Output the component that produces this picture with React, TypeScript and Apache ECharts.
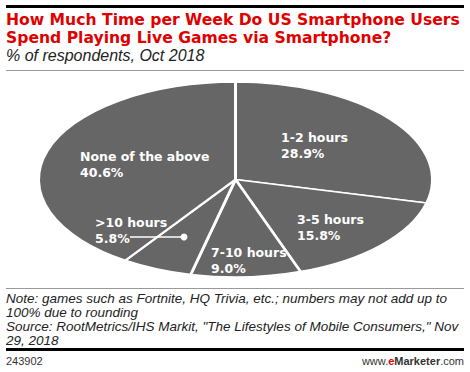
import React, { useEffect, useRef } from "react";
import * as echarts from "echarts";

const categories = ["1-2 hours", "3-5 hours", "7-10 hours", ">10 hours", "None of the above"];
const values = [28.9, 15.8, 9.0, 5.8, 40.6];

const titleLines = [
  "How Much Time per Week Do US Smartphone Users",
  "Spend Playing Live Games via Smartphone?",
];
const subtitle = "% of respondents, Oct 2018";
const noteLines = [
  "Note: games such as Fortnite, HQ Trivia, etc.; numbers may not add up to",
  "100% due to rounding",
  'Source: RootMetrics/IHS Markit, "The Lifestyles of Mobile Consumers," Nov',
  "29, 2018",
];
const chartId = "243902";

// layout (not data)
const CX = 235.5;
const CY = 179.5;
const RX = 197;
const RY = 97.5;
const labelPos: Record<string, [number, number]> = {
  "1-2 hours": [281, 129.5],
  "3-5 hours": [297, 211],
  "7-10 hours": [211, 244],
  ">10 hours": [95, 214],
  "None of the above": [80, 148],
};
const FONT = "'Liberation Sans', Arial, sans-serif";
const LFONT = "'DejaVu Sans', sans-serif";

export default function App() {
  const ref = useRef<HTMLDivElement>(null);
  useEffect(() => {
    document.body.style.margin = "0";
    const chart = echarts.init(ref.current!, null, { renderer: "svg" });
    const total = values.reduce((a, b) => a + b, 0);
    const cum: number[] = [];
    let acc = 0;
    values.forEach((v) => {
      cum.push(acc);
      acc += v;
    });

    const option: any = {
      animation: false,
      backgroundColor: "#fff",
      series: [
        {
          type: "custom",
          coordinateSystem: "none",
          data: values.map((v, i) => ({ name: categories[i], value: v })),
          renderItem: (params: any, api: any) => {
            const i = params.dataIndex;
            const v = api.value(0);
            const start = -Math.PI / 2 + (cum[i] / total) * Math.PI * 2;
            const end = start + (v / total) * Math.PI * 2;
            const name = categories[i];
            const [lx, ly] = labelPos[name];
            return {
              type: "group",
              children: [
                {
                  type: "sector",
                  x: CX,
                  y: CY,
                  scaleY: RY / RX,
                  shape: { cx: 0, cy: 0, r: RX, r0: 0, startAngle: start, endAngle: end, clockwise: true },
                  style: { fill: "#666666", stroke: "#ffffff", lineWidth: 3, strokeNoScale: true },
                  z2: 1,
                },
                {
                  type: "text",
                  x: lx,
                  y: ly,
                  z2: 5,
                  style: {
                    text: `${name}\n${v.toFixed(1)}%`,
                    fill: "#ffffff",
                    font: `bold 12.5px ${LFONT}`,
                    lineHeight: 16,
                    verticalAlign: "top",
                    align: "left",
                  },
                },
              ],
            };
          },
        },
      ],
      graphic: [
        { type: "rect", shape: { x: 6, y: 5, width: 458, height: 3 }, style: { fill: "#000" } },
        {
          type: "text",
          x: 6,
          y: 11,
          style: {
            text: titleLines.join("\n"),
            fill: "#e00000",
            font: `bold 15.6px ${LFONT}`,
            lineHeight: 18,
            verticalAlign: "top",
          },
        },
        {
          type: "text",
          x: 6,
          y: 55.8,
          style: { text: subtitle, fill: "#222", font: `italic 16px ${FONT}`, verticalAlign: "middle" },
        },
        { type: "rect", shape: { x: 6, y: 70, width: 458, height: 1 }, style: { fill: "#999" } },
        // leader for >10 hours
        {
          type: "line",
          z: 10,
          shape: { x1: 130, y1: 237, x2: 184, y2: 237 },
          style: { stroke: "#fff", lineWidth: 1.5 },
        },
        { type: "circle", z: 10, shape: { cx: 184, cy: 237, r: 3.5 }, style: { fill: "#fff" } },
        { type: "rect", shape: { x: 6, y: 288, width: 458, height: 1 }, style: { fill: "#999" } },
        {
          type: "text",
          x: 6,
          y: 291.9,
          style: {
            text: noteLines.join("\n"),
            fill: "#222",
            font: `italic 13.5px ${FONT}`,
            lineHeight: 13.8,
            verticalAlign: "top",
          },
        },
        { type: "rect", shape: { x: 6, y: 348, width: 458, height: 3 }, style: { fill: "#000" } },
        {
          type: "text",
          x: 6,
          y: 361,
          style: { text: chartId, fill: "#333", font: `11px ${FONT}`, verticalAlign: "middle" },
        },
        {
          type: "text",
          x: 464,
          y: 361,
          style: {
            text: "{a|www.}{b|e}{c|Marketer}{a|.com}",
            align: "right",
            verticalAlign: "middle",
            rich: {
              a: { fill: "#333", font: `11px ${FONT}` },
              b: { fill: "#e00000", font: `bold 11px ${FONT}` },
              c: { fill: "#333", font: `bold 11px ${FONT}` },
            },
          },
        },
      ],
    };
    chart.setOption(option);
    return () => chart.dispose();
  }, []);
  return <div ref={ref} style={{ width: 470, height: 372 }} />;
}
